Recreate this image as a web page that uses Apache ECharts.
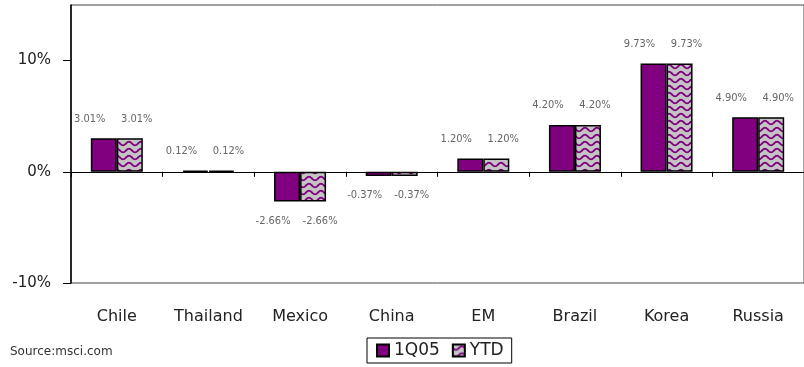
<!DOCTYPE html>
<html><head><meta charset="utf-8">
<script src="https://cdn.jsdelivr.net/npm/echarts@6/dist/echarts.min.js"></script>
<style>html,body{margin:0;padding:0;background:#fff}#c{width:804px;height:367px}</style>
</head><body><div id="c"></div>
<script>
const categories = ['Chile','Thailand','Mexico','China','EM','Brazil','Korea','Russia'];
const q105 = [3.01, 0.12, -2.66, -0.37, 1.20, 4.20, 9.73, 4.90];
const ytd  = [3.01, 0.12, -2.66, -0.37, 1.20, 4.20, 9.73, 4.90];
const yTicks = [-10, 0, 10];

function makePattern(){
  const c = document.createElement('canvas');
  c.width = 12; c.height = 7;
  const g = c.getContext('2d');
  g.fillStyle = '#c4c4c4'; g.fillRect(0,0,12,7);
  g.strokeStyle = '#800080'; g.lineWidth = 1.8;
  g.beginPath();
  for (let x = -1; x <= 13; x += 0.5) {
    const y = 3.5 + 1.8*Math.sin(x/12*2*Math.PI);
    if (x === -1) g.moveTo(x,y); else g.lineTo(x,y);
  }
  g.stroke();
  return c;
}
const pat = makePattern();

const chart = echarts.init(document.getElementById('c'));
function items(arr){
  return arr.map(v => ({value: v, label: {position: v < 0 ? 'bottom' : 'top'}}));
}
const labelBase = {
  show: true, color: '#666', fontSize: 11, fontFamily: 'DejaVu Sans Condensed, DejaVu Sans',
  formatter: p => p.value.toFixed(2) + '%', distance: 14
};
chart.setOption({
  animation: false,
  grid: {left: 71, top: 5, width: 743, bottom: 84, show: true, borderColor: '#444', borderWidth: 1, backgroundColor: 'transparent'},
  xAxis: [{
    type: 'category', data: categories,
    axisLine: {onZero: true, lineStyle: {color: '#000', width: 1}},
    axisTick: {show: true, length: 5, lineStyle: {color: '#000'}},
    axisLabel: {show: false}
  },{
    type: 'category', data: categories, position: 'bottom',
    axisLine: {show: false}, axisTick: {show: false},
    axisLabel: {color: '#222', fontSize: 16, margin: 26, fontFamily: 'DejaVu Sans'}
  }],
  yAxis: {
    type: 'value', min: -10, max: 15, interval: 10,
    axisLine: {show: true, lineStyle: {color: '#000', width: 1.5}},
    axisTick: {show: true, length: 8, customValues: yTicks, lineStyle: {color: '#000'}},
    splitLine: {show: false},
    axisLabel: {customValues: yTicks, formatter: v => v + '%', color: '#222', fontSize: 15, margin: 20, fontFamily: 'DejaVu Sans'}
  },
  legend: {
    bottom: 4, left: 367, itemWidth: 12, itemHeight: 12, itemGap: 12, icon: 'rect',
    borderColor: '#000', borderWidth: 1, padding: [4, 8, 4, 9], borderRadius: 0,
    textStyle: {color: '#222', fontSize: 17, fontFamily: 'DejaVu Sans'},
    data: ['1Q05', 'YTD']
  },
  graphic: [{type: 'text', left: 10, top: 346, style: {text: 'Source:msci.com', fill: '#333', font: '12px DejaVu Sans'}}],
  series: [{
    name: '1Q05', type: 'bar', data: items(q105), barWidth: 26, barGap: '0%',
    itemStyle: {color: '#800080', borderColor: '#000', borderWidth: 1.5},
    label: Object.assign({}, labelBase, {offset: [-14, 0]})
  },{
    name: 'YTD', type: 'bar', data: items(ytd), barWidth: 26, barGap: '0%',
    itemStyle: {color: {image: pat, repeat: 'repeat'}, borderColor: '#000', borderWidth: 1.5},
    label: Object.assign({}, labelBase, {offset: [7, 0]})
  }]
});
</script></body></html>
